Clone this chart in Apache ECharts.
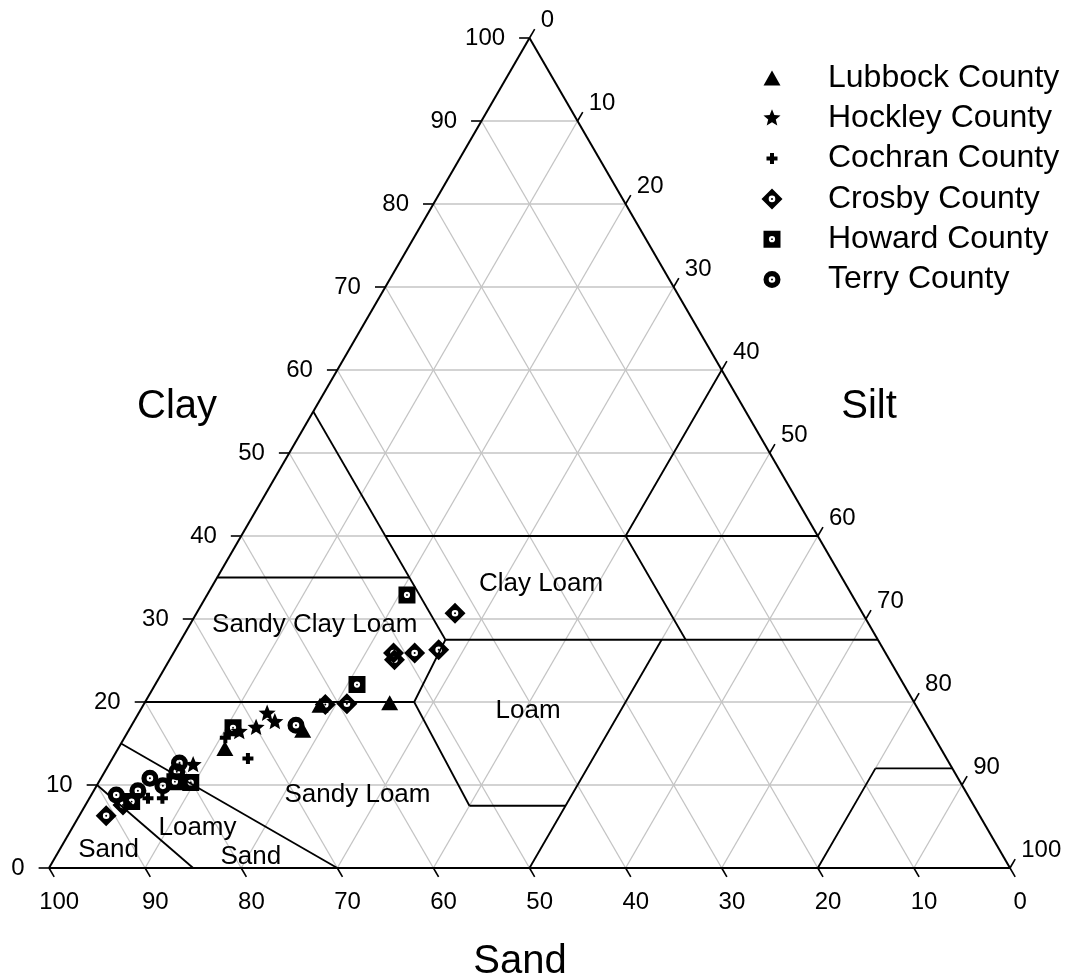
<!DOCTYPE html>
<html>
<head>
<meta charset="utf-8">
<script src="https://cdn.jsdelivr.net/npm/echarts@6/dist/echarts.min.js"></script>
<style>
  html, body { margin: 0; padding: 0; background: #ffffff; }
  #chart { width: 1072px; height: 975px; }
</style>
</head>
<body>
<div id="chart"></div>
<script>
// Soil samples per county, each entry is [sand %, silt %, clay %]
const lubbock = [[74.5, 11.1, 14.4], [65.3, 18.1, 16.6], [62.0, 18.4, 19.6], [54.6, 25.5, 19.9]];
const hockley = [[72.0, 11.6, 16.4], [70.0, 13.1, 16.9], [68.0, 13.4, 18.6], [67.7, 14.7, 17.6], [78.8, 8.8, 12.4]];
const cochran = [[73.8, 10.5, 15.7], [72.7, 14.1, 13.2], [84.0, 7.6, 8.4], [85.5, 6.1, 8.4]];
const crosby = [[90.9, 2.8, 6.3], [88.5, 3.9, 7.6], [42.4, 26.9, 30.7], [51.2, 22.9, 25.9], [51.5, 23.4, 25.1],
                [49.0, 25.1, 25.9], [46.3, 27.4, 26.3], [59.1, 21.1, 19.8], [61.4, 18.9, 19.7]];
const howard = [[46.3, 20.8, 32.9], [56.9, 21.0, 22.1], [72.4, 10.7, 16.9], [80.1, 9.6, 10.3], [81.7, 7.9, 10.4], [87.4, 4.6, 8.0]];
const terry = [[65.7, 17.1, 17.2], [88.6, 2.6, 8.8], [86.1, 4.6, 9.3], [84.1, 5.1, 10.8], [83.2, 6.9, 9.9],
               [80.9, 7.5, 11.6], [80.1, 7.25, 12.65]];

const countyNames = ['Lubbock County', 'Hockley County', 'Cochran County', 'Crosby County', 'Howard County', 'Terry County'];
const countySamples = [lubbock, hockley, cochran, crosby, howard, terry];

const tickValues = [0, 10, 20, 30, 40, 50, 60, 70, 80, 90, 100];
const tickLabels = ['0', '10', '20', '30', '40', '50', '60', '70', '80', '90', '100'];
const axisNames = ['Clay', 'Silt', 'Sand'];

// Texture class boundaries, each segment from [sand, silt, clay] to [sand, silt, clay]
const textureBoundaries = [
  [[45, 0, 55], [45, 27.5, 27.5]],
  [[65, 0, 35], [45, 20, 35]],
  [[45, 15, 40], [0, 60, 40]],
  [[0, 40, 60], [20, 40, 40]],
  [[20, 40, 40], [20, 52.5, 27.5]],
  [[45, 27.5, 27.5], [0, 72.5, 27.5]],
  [[80, 0, 20], [52, 28, 20]],
  [[52, 28, 20], [45, 27.5, 27.5]],
  [[52, 28, 20], [52.5, 40, 7.5]],
  [[52.5, 40, 7.5], [42.5, 50, 7.5]],
  [[22.5, 50, 27.5], [50, 50, 0]],
  [[85, 0, 15], [70, 30, 0]],
  [[90, 0, 10], [85, 15, 0]],
  [[20, 80, 0], [8, 80, 12]],
  [[8, 80, 12], [0, 88, 12]]
];

// Texture class names and where each one is written, as [sand, silt, clay]
const regionNames = ['Clay Loam', 'Sandy Clay Loam', 'Loam', 'Sandy Loam', 'Loamy', 'Sand', 'Sand'];
const regionAnchors = [[31.7, 34.1, 34.2], [57.7, 13.0, 29.3], [40.7, 40.4, 18.9], [63.5, 27.7, 8.8],
                       [82.1, 13.0, 4.9], [78.3, 20.3, 1.4], [92.7, 5.1, 2.2]];

// Ternary (sand, silt, clay) -> plane: x runs from the sand corner (0) to the silt corner (100),
// y is the clay share (clay corner on top).
function tern(sand, silt, clay) { return [silt + clay / 2, clay]; }
function ternP(p) { return tern(p[0], p[1], p[2]); }

// ---- marker shapes, all drawn in a common 22x22 box so series and legend share the scale
const BOX = 'M-11,-11M11,11';
function hole(r) { return 'M0,' + (-r) + 'A' + r + ',' + r + ' 0 1,0 0,' + r + 'A' + r + ',' + r + ' 0 1,0 0,' + (-r) + 'Z'; }
function dot(r) { return 'M0,' + (-r) + 'A' + r + ',' + r + ' 0 1,1 0,' + r + 'A' + r + ',' + r + ' 0 1,1 0,' + (-r) + 'Z'; }
function starPath(R, r) {
  let d = '';
  for (let i = 0; i < 10; i++) {
    const a = -Math.PI / 2 + i * Math.PI / 5;
    const rad = i % 2 ? r : R;
    d += (i ? 'L' : 'M') + (rad * Math.cos(a)).toFixed(2) + ',' + (rad * Math.sin(a)).toFixed(2);
  }
  return d + 'Z';
}
const symbols = [
  'path://' + BOX + 'M0,-7.5L8.5,7.5L-8.5,7.5Z',
  'path://' + BOX + starPath(9, 4),
  'path://' + BOX + 'M-2,-5.5L2,-5.5L2,-2L5.5,-2L5.5,2L2,2L2,5.5L-2,5.5L-2,2L-5.5,2L-5.5,-2L-2,-2Z',
  'path://' + BOX + 'M0,-10.5L10.5,0L0,10.5L-10.5,0Z' + hole(3.3) + dot(1),
  'path://' + BOX + 'M-8.5,-8.5L8.5,-8.5L8.5,8.5L-8.5,8.5Z' + hole(3.1) + dot(0.9),
  'path://' + BOX + 'M0,-8.5A8.5,8.5 0 1,1 0,8.5A8.5,8.5 0 1,1 0,-8.5Z' + hole(3.3) + dot(1)
];

// ---- frame geometry (plane units)
const edges = [[tern(100, 0, 0), tern(0, 100, 0)], [tern(0, 100, 0), tern(0, 0, 100)], [tern(0, 0, 100), tern(100, 0, 0)]];
const gridSegs = [];
tickValues.slice(1, -1).forEach(function (k) {
  gridSegs.push([tern(100 - k, 0, k), tern(0, 100 - k, k)]);   // constant clay
  gridSegs.push([tern(100 - k, k, 0), tern(0, k, 100 - k)]);   // constant silt
  gridSegs.push([tern(k, 100 - k, 0), tern(k, 0, 100 - k)]);   // constant sand
});
const TL = 1.08; // tick length in plane units
const clayTickEnds = tickValues.map(function (v) { const p = tern(100 - v, 0, v); return [p[0] - TL, p[1]]; });
const siltTickEnds = tickValues.map(function (v) { const p = tern(0, v, 100 - v); return [p[0] + TL / 2, p[1] + TL]; });
const sandTickEnds = tickValues.map(function (v) { const p = tern(v, 100 - v, 0); return [p[0] + TL / 2, p[1] - TL]; });
const tickSegs = [];
tickValues.forEach(function (v, i) {
  tickSegs.push([tern(100 - v, 0, v), clayTickEnds[i]]);
  tickSegs.push([tern(0, v, 100 - v), siltTickEnds[i]]);
  tickSegs.push([tern(v, 100 - v, 0), sandTickEnds[i]]);
});

const FONT = '"Liberation Sans", Arial, Helvetica, sans-serif';

function flat(segs) { return segs.map(function (s) { return [s[0][0], s[0][1], s[1][0], s[1][1]]; }); }
function segmentSeries(segs, color, width, z) {
  return {
    type: 'custom', coordinateSystem: 'cartesian2d', silent: true, z: z, animation: false,
    encode: { x: [0, 2], y: [1, 3] },
    data: flat(segs),
    renderItem: function (params, api) {
      const a = api.coord([api.value(0), api.value(1)]);
      const b = api.coord([api.value(2), api.value(3)]);
      return { type: 'line', shape: { x1: a[0], y1: a[1], x2: b[0], y2: b[1] },
               style: { stroke: color, lineWidth: width, lineCap: 'butt' } };
    }
  };
}
function textSeries(points, texts, dx, dy, align, fontSize, z) {
  return {
    type: 'custom', coordinateSystem: 'cartesian2d', silent: true, z: z, animation: false,
    encode: { x: 0, y: 1 },
    data: points.map(function (p, i) { return [p[0], p[1], i]; }),
    renderItem: function (params, api) {
      const c = api.coord([api.value(0), api.value(1)]);
      return { type: 'text', x: c[0] + dx, y: c[1] + dy,
               style: { text: texts[api.value(2)], fill: '#000', fontSize: fontSize, fontFamily: FONT,
                        align: align, verticalAlign: 'middle' } };
    }
  };
}

const series = [
  segmentSeries(gridSegs, '#c4c4c4', 1.3, 1),
  segmentSeries(textureBoundaries.map(function (s) { return [ternP(s[0]), ternP(s[1])]; }), '#000', 1.8, 2),
  segmentSeries(edges, '#000', 2, 3),
  segmentSeries(tickSegs, '#000', 1.6, 3),
  textSeries(clayTickEnds, tickLabels, -14, 0, 'right', 24, 4),
  textSeries(siltTickEnds, tickLabels, 6, -9, 'left', 24, 4),
  textSeries(sandTickEnds, tickLabels, 5, 25, 'center', 24, 4),
  textSeries(regionAnchors.map(ternP), regionNames, 0, 0, 'center', 26, 4)
];

countyNames.forEach(function (name, i) {
  series.push({
    name: name, type: 'scatter', z: 10, animation: false,
    symbol: symbols[i], symbolSize: 22,
    itemStyle: { color: '#000', borderWidth: 0, opacity: 1 },
    data: countySamples[i].map(ternP)
  });
});

const chart = echarts.init(document.getElementById('chart'), null, { renderer: 'canvas' });
chart.setOption({
  backgroundColor: '#ffffff',
  animation: false,
  grid: { left: 49, top: 38, width: 961, height: 830, containLabel: false },
  xAxis: { type: 'value', min: 0, max: 100, show: false },
  yAxis: { type: 'value', min: 0, max: 100, show: false },
  legend: {
    orient: 'vertical', left: 756, top: 57,
    itemWidth: 102, itemHeight: 22, itemGap: 8.3, selectedMode: false,
    data: countyNames.map(function (n, i) { return { name: n, icon: symbols[i] }; }),
    textStyle: { fontSize: 32, fontFamily: FONT, color: '#000' }
  },
  graphic: [
    { type: 'text', x: 177, y: 407, style: { text: axisNames[0], fontSize: 40, fontFamily: FONT, fill: '#000', align: 'center', verticalAlign: 'middle' } },
    { type: 'text', x: 869, y: 407, style: { text: axisNames[1], fontSize: 40, fontFamily: FONT, fill: '#000', align: 'center', verticalAlign: 'middle' } },
    { type: 'text', x: 520, y: 962, style: { text: axisNames[2], fontSize: 40, fontFamily: FONT, fill: '#000', align: 'center', verticalAlign: 'middle' } }
  ],
  series: series
});
</script>
</body>
</html>
